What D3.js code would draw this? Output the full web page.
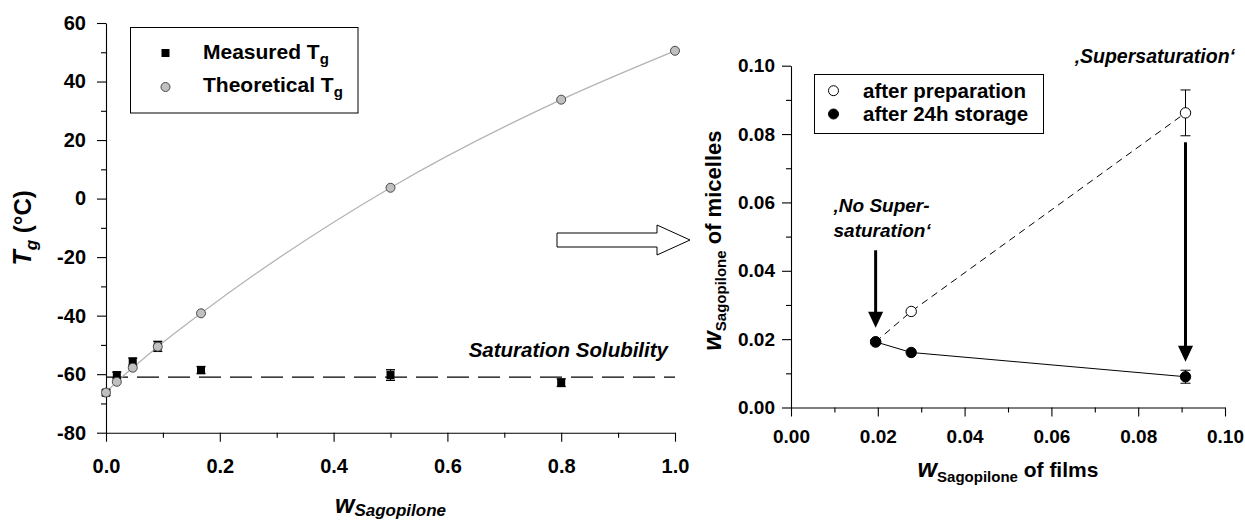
<!DOCTYPE html>
<html>
<head>
<meta charset="utf-8">
<script src="https://cdn.jsdelivr.net/npm/d3@7/dist/d3.min.js"></script>
<style>
  html, body { margin: 0; padding: 0; background: #fff; }
  svg { display: block; }
  text { font-family: "Liberation Sans", Arial, sans-serif; font-weight: bold; fill: #000; }
</style>
</head>
<body>
<svg id="chart" width="1245" height="524"></svg>
<script>
// ---- Glass transition data (left panel) ----
const tgMeasuredX = [0, 0.019, 0.047, 0.091, 0.167, 0.5, 0.8];
const tgMeasured = [-66.3, -60.3, -55.7, -50.5, -58.6, -60.3, -62.9];
const tgMeasuredErr = [1.0, 1.0, 1.2, 1.7, 1.2, 1.8, 1.3];
const tgTheoX = [0, 0.019, 0.047, 0.091, 0.167, 0.5, 0.8, 1.0];
const tgTheoretical = [-66.3, -62.6, -57.8, -50.6, -39.2, 3.7, 33.8, 50.5];
const saturationTg = -61;
const leftXTicks = [0, 0.2, 0.4, 0.6, 0.8, 1.0];
const leftXMinor = [0.1, 0.3, 0.5, 0.7, 0.9];
const leftYTicks = [-80, -60, -40, -20, 0, 20, 40, 60];
const leftYMinor = [-70, -50, -30, -10, 10, 30, 50];

// ---- Micelle loading data (right panel) ----
const filmW = [0.0195, 0.0277, 0.0909];
const afterPreparation = [0.0192, 0.0281, 0.0862];
const afterPreparationErr = [0, 0, 0.0067];
const afterStorage = [0.0192, 0.0161, 0.0090];
const afterStorageErr = [0, 0, 0.0019];
const rightTicks = [0, 0.02, 0.04, 0.06, 0.08, 0.10];
const rightMinor = [0.01, 0.03, 0.05, 0.07, 0.09];
// annotation arrows: x position, start and tip (data units)
const arrowX = [0.0195, 0.0909];
const arrowFrom = [0.046, 0.0776];
const arrowTo = [0.0233, 0.0134];

const svg = d3.select("#chart");

// ---------- left panel ----------
const xL = d3.scaleLinear().domain([0, 1]).range([106, 675]);
const yL = d3.scaleLinear().domain([-80, 60]).range([432.7, 23]);

function styleAxis(g) {
  g.selectAll("path.domain").attr("stroke", "#000").attr("stroke-width", 1.1);
  g.selectAll(".tick line").attr("stroke", "#000").attr("stroke-width", 1.1);
  g.selectAll("text").attr("fill", "#000").style("font-family", '"Liberation Sans", Arial, sans-serif')
    .style("font-weight", "bold");
}

const gL = svg.append("g");

// minor ticks
gL.append("g").attr("transform", `translate(${xL(0)},0)`)
  .call(d3.axisLeft(yL).tickValues(leftYMinor).tickSize(5).tickFormat(""))
  .call(g => g.select(".domain").remove()).call(styleAxis);
gL.append("g").attr("transform", `translate(0,${yL(-80)})`)
  .call(d3.axisBottom(xL).tickValues(leftXMinor).tickSize(5).tickFormat(""))
  .call(g => g.select(".domain").remove()).call(styleAxis);

// major axes
gL.append("g").attr("transform", `translate(${xL(0)},0)`)
  .call(d3.axisLeft(yL).tickValues(leftYTicks).tickSize(9).tickSizeOuter(0).tickPadding(11)
    .tickFormat(d => String(d)))
  .call(styleAxis)
  .call(g => g.selectAll("text").style("font-size", "20px"));
gL.append("g").attr("transform", `translate(0,${yL(-80)})`)
  .call(d3.axisBottom(xL).tickValues(leftXTicks).tickSize(9).tickSizeOuter(0).tickPadding(17)
    .tickFormat(d3.format(".1f")))
  .call(styleAxis)
  .call(g => g.selectAll("text").style("font-size", "20px"));

// saturation solubility line
gL.append("line")
  .attr("x1", xL(0)).attr("x2", xL(1))
  .attr("y1", yL(saturationTg)).attr("y2", yL(saturationTg))
  .attr("stroke", "#000").attr("stroke-width", 1.4).attr("stroke-dasharray", "22,9");
gL.append("text")
  .attr("x", xL(1) - 7).attr("y", yL(saturationTg) - 20)
  .attr("text-anchor", "end").style("font-size", "20.5px").style("font-style", "italic")
  .text("Saturation Solubility");

// theoretical curve
const theo = tgTheoX.map((x, i) => ({ x, y: tgTheoretical[i] }));
gL.append("path").datum(theo)
  .attr("d", d3.line().x(d => xL(d.x)).y(d => yL(d.y)).curve(d3.curveMonotoneX))
  .attr("fill", "none").attr("stroke", "#b4b4b4").attr("stroke-width", 1.3);

// measured Tg with error bars
const meas = tgMeasuredX.map((x, i) => ({ x, y: tgMeasured[i], e: tgMeasuredErr[i] }));
const mg = gL.append("g");
meas.forEach(d => {
  const cx = xL(d.x), top = yL(d.y + d.e), bot = yL(d.y - d.e);
  mg.append("line").attr("x1", cx).attr("x2", cx).attr("y1", top).attr("y2", bot)
    .attr("stroke", "#000").attr("stroke-width", 1.2);
  [top, bot].forEach(yy => mg.append("line").attr("x1", cx - 4.5).attr("x2", cx + 4.5)
    .attr("y1", yy).attr("y2", yy).attr("stroke", "#000").attr("stroke-width", 1.4));
  mg.append("rect").attr("x", cx - 4).attr("y", yL(d.y) - 4).attr("width", 8).attr("height", 8)
    .attr("fill", "#000");
});

// theoretical points
gL.append("g").selectAll("circle").data(theo).join("circle")
  .attr("cx", d => xL(d.x)).attr("cy", d => yL(d.y)).attr("r", 4.5)
  .attr("fill", "#c0c0c0").attr("stroke", "#3a3a3a").attr("stroke-width", 0.9);

// legend (left)
const legL = gL.append("g");
legL.append("rect").attr("x", 130.5).attr("y", 27.5).attr("width", 227.5).attr("height", 85.5)
  .attr("fill", "#fff").attr("stroke", "#000").attr("stroke-width", 1);
legL.append("rect").attr("x", 161.5).attr("y", 49).attr("width", 8).attr("height", 8).attr("fill", "#000");
legL.append("circle").attr("cx", 165.5).attr("cy", 87).attr("r", 4.5)
  .attr("fill", "#c0c0c0").attr("stroke", "#3a3a3a").attr("stroke-width", 0.9);
function legendTg(y, label) {
  const t = legL.append("text").attr("x", 203).attr("y", y).style("font-size", "21px");
  t.append("tspan").text(label + " T");
  t.append("tspan").attr("dy", 5).style("font-size", "15px").text("g");
}
legendTg(58.5, "Measured");
legendTg(92, "Theoretical");

// axis titles (left)
const xtL = gL.append("text").attr("x", (xL(0) + xL(1)) / 2).attr("y", 512.5)
  .attr("text-anchor", "middle").style("font-style", "italic");
xtL.append("tspan").style("font-size", "25px").text("w");
xtL.append("tspan").attr("dy", 3.5).style("font-size", "17px").text("Sagopilone");

const ytL = gL.append("text")
  .attr("transform", `translate(31,${(yL(-80) + yL(60)) / 2}) rotate(-90)`)
  .attr("text-anchor", "middle");
ytL.append("tspan").style("font-size", "25px").style("font-style", "italic").text("T");
ytL.append("tspan").attr("dy", 6).style("font-size", "17px").style("font-style", "italic").text("g");
ytL.append("tspan").attr("dy", -6).style("font-size", "24px").text(" (°C)");

// hollow arrow linking the panels
const ha = { x0: 557, x1: 657, x2: 690, cy: 240, shaft: 7, head: 15 };
svg.append("path")
  .attr("d", `M${ha.x0},${ha.cy - ha.shaft} H${ha.x1} V${ha.cy - ha.head} L${ha.x2},${ha.cy}
    L${ha.x1},${ha.cy + ha.head} V${ha.cy + ha.shaft} H${ha.x0} Z`)
  .attr("fill", "#fff").attr("stroke", "#000").attr("stroke-width", 1);

// ---------- right panel ----------
const xR = d3.scaleLinear().domain([0, 0.1]).range([791, 1225]);
const yR = d3.scaleLinear().domain([0, 0.1]).range([407.5, 65.7]);
const gR = svg.append("g");

gR.append("g").attr("transform", `translate(${xR(0)},0)`)
  .call(d3.axisLeft(yR).tickValues(rightMinor).tickSize(5).tickFormat(""))
  .call(g => g.select(".domain").remove()).call(styleAxis);
gR.append("g").attr("transform", `translate(0,${yR(0)})`)
  .call(d3.axisBottom(xR).tickValues(rightMinor).tickSize(5).tickFormat(""))
  .call(g => g.select(".domain").remove()).call(styleAxis);
gR.append("g").attr("transform", `translate(${xR(0)},0)`)
  .call(d3.axisLeft(yR).tickValues(rightTicks).tickSize(9).tickSizeOuter(0).tickPadding(7)
    .tickFormat(d3.format(".2f")))
  .call(styleAxis)
  .call(g => g.selectAll("text").style("font-size", "19px"));
gR.append("g").attr("transform", `translate(0,${yR(0)})`)
  .call(d3.axisBottom(xR).tickValues(rightTicks).tickSize(9).tickSizeOuter(0).tickPadding(13)
    .tickFormat(d3.format(".2f")))
  .call(styleAxis)
  .call(g => g.selectAll("text").style("font-size", "19px"));

const prep = filmW.map((x, i) => ({ x, y: afterPreparation[i], e: afterPreparationErr[i] }));
const stor = filmW.map((x, i) => ({ x, y: afterStorage[i], e: afterStorageErr[i] }));
const lineR = d3.line().x(d => xR(d.x)).y(d => yR(d.y));

gR.append("path").datum(prep).attr("d", lineR)
  .attr("fill", "none").attr("stroke", "#000").attr("stroke-width", 1).attr("stroke-dasharray", "7,5");
gR.append("path").datum(stor).attr("d", lineR)
  .attr("fill", "none").attr("stroke", "#000").attr("stroke-width", 1);

function errBars(data) {
  data.filter(d => d.e > 0).forEach(d => {
    const cx = xR(d.x), top = yR(d.y + d.e), bot = yR(d.y - d.e);
    gR.append("line").attr("x1", cx).attr("x2", cx).attr("y1", top).attr("y2", bot)
      .attr("stroke", "#000").attr("stroke-width", 1);
    [top, bot].forEach(yy => gR.append("line").attr("x1", cx - 5).attr("x2", cx + 5)
      .attr("y1", yy).attr("y2", yy).attr("stroke", "#000").attr("stroke-width", 1));
  });
}
errBars(prep);
errBars(stor);

gR.append("g").selectAll("circle").data(prep).join("circle")
  .attr("cx", d => xR(d.x)).attr("cy", d => yR(d.y)).attr("r", 5.2)
  .attr("fill", "#fff").attr("stroke", "#000").attr("stroke-width", 1);
gR.append("g").selectAll("circle").data(stor).join("circle")
  .attr("cx", d => xR(d.x)).attr("cy", d => yR(d.y)).attr("r", 5.2)
  .attr("fill", "#000").attr("stroke", "#000").attr("stroke-width", 1);

// annotation arrows
arrowX.forEach((ax, i) => {
  const x = xR(ax), y0 = yR(arrowFrom[i]), tip = yR(arrowTo[i]);
  gR.append("line").attr("x1", x).attr("x2", x).attr("y1", y0).attr("y2", tip - 14)
    .attr("stroke", "#000").attr("stroke-width", 3);
  gR.append("path").attr("d", `M${x - 7.5},${tip - 16} L${x + 7.5},${tip - 16} L${x},${tip} Z`)
    .attr("fill", "#000");
});

// annotations
gR.append("text").attr("x", xR(0.1) + 10).attr("y", yR(0.1) - 3).attr("text-anchor", "end")
  .style("font-size", "19.5px").style("font-style", "italic").text("\u201ASupersaturation\u2018");
const ns = gR.append("text").attr("text-anchor", "start").style("font-size", "19px").style("font-style", "italic");
ns.append("tspan").attr("x", xR(0.0098)).attr("y", yR(0.0572)).text("\u201ANo Super-");
ns.append("tspan").attr("x", xR(0.0098)).attr("y", yR(0.0500)).text("saturation\u2018");

// legend (right)
const legR = gR.append("g");
legR.append("rect").attr("x", 814.5).attr("y", 74.5).attr("width", 229).attr("height", 59)
  .attr("fill", "#fff").attr("stroke", "#000").attr("stroke-width", 1);
legR.append("circle").attr("cx", 833.5).attr("cy", 90.7).attr("r", 5)
  .attr("fill", "#fff").attr("stroke", "#000").attr("stroke-width", 1);
legR.append("circle").attr("cx", 833.5).attr("cy", 114).attr("r", 5)
  .attr("fill", "#000").attr("stroke", "#000").attr("stroke-width", 1);
legR.append("text").attr("x", 863).attr("y", 97.5).style("font-size", "20.5px").text("after preparation");
legR.append("text").attr("x", 863).attr("y", 120.5).style("font-size", "20.5px").text("after 24h storage");

// axis titles (right)
const xtR = gR.append("text").attr("x", (xR(0) + xR(0.1)) / 2).attr("y", 477)
  .attr("text-anchor", "middle");
xtR.append("tspan").style("font-size", "25px").style("font-style", "italic").text("w");
xtR.append("tspan").attr("dy", 5).style("font-size", "15px").text("Sagopilone");
xtR.append("tspan").attr("dy", -5).style("font-size", "21px").text(" of films");

const ytR = gR.append("text")
  .attr("transform", `translate(721,${(yR(0) + yR(0.1)) / 2 + 4}) rotate(-90)`)
  .attr("text-anchor", "middle");
ytR.append("tspan").style("font-size", "25px").style("font-style", "italic").text("w");
ytR.append("tspan").attr("dy", 5).style("font-size", "15px").text("Sagopilone");
ytR.append("tspan").attr("dy", -5).style("font-size", "22px").text(" of micelles");
</script>
</body>
</html>
